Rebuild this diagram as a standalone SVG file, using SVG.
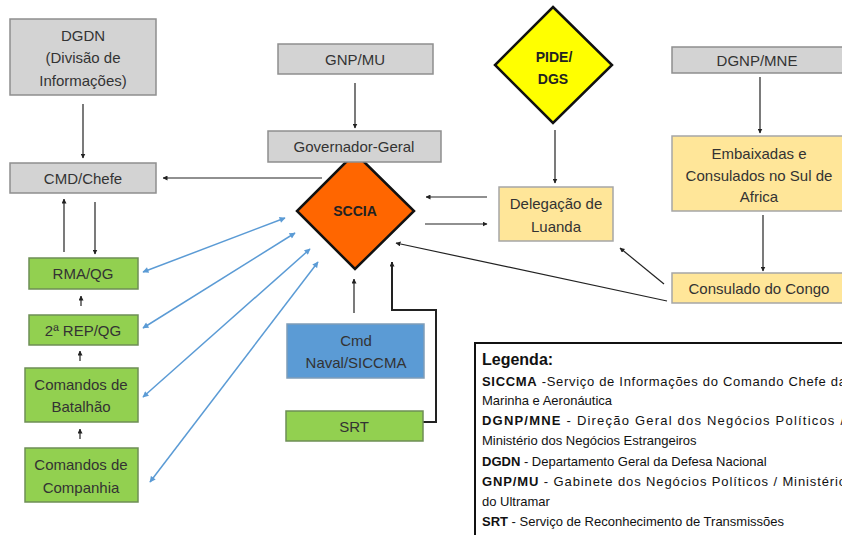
<svg xmlns="http://www.w3.org/2000/svg" width="842" height="535" viewBox="0 0 842 535">
<defs>
<marker id="ah" viewBox="0 0 10 10" refX="9" refY="5" markerWidth="5" markerHeight="5" orient="auto-start-reverse" markerUnits="userSpaceOnUse"><path d="M0,0 L10,5 L0,10 z" fill="#222"/></marker>
<marker id="ahb" viewBox="0 0 10 10" refX="9" refY="5" markerWidth="7" markerHeight="6" orient="auto-start-reverse" markerUnits="userSpaceOnUse"><path d="M0,0 L10,5 L0,10 z" fill="#5B9BD5"/></marker>
<style>
text{font-family:"Liberation Sans",Arial,sans-serif;fill:#333;font-size:15px;text-anchor:middle;dominant-baseline:central}
.gray{fill:#D3D3D3;stroke:#8E8E8E;stroke-width:1.5}
.green{fill:#92D050;stroke:#6E8E55;stroke-width:1.5}
.sand{fill:#FFE699;stroke:#A6A6A6;stroke-width:1.5}
.blue{fill:#5B9BD5;stroke:#7F9DB8;stroke-width:1.5}
.c{fill:none;stroke:#222;stroke-width:1.2;marker-end:url(#ah)}
.cb{fill:none;stroke:#5B9BD5;stroke-width:1.5;marker-start:url(#ahb);marker-end:url(#ahb)}
.b{font-weight:bold}
.d{font-size:14px;fill:#222}
.lg{text-anchor:start;dominant-baseline:auto;font-size:13px;fill:#111}
</style>
</defs>
<rect width="842" height="535" fill="#fff"/>

<g id="connectors">
<line class="c" x1="83" y1="104" x2="83" y2="158"/>
<line class="c" x1="322" y1="178" x2="163" y2="178"/>
<line class="c" x1="355" y1="83" x2="355" y2="128"/>
<line class="c" x1="487" y1="197" x2="426" y2="197"/>
<line class="c" x1="425" y1="224" x2="487" y2="224"/>
<line class="c" x1="555" y1="130" x2="555" y2="183"/>
<line class="c" x1="760" y1="77" x2="760" y2="133"/>
<line class="c" x1="763" y1="215" x2="763" y2="271"/>
<line class="c" x1="664" y1="284" x2="620" y2="248"/>
<line class="c" x1="667" y1="301" x2="396" y2="243"/>
<line class="c" x1="64" y1="252" x2="64" y2="199"/>
<line class="c" x1="95" y1="202" x2="95" y2="254"/>
<line class="c" x1="81" y1="306" x2="81" y2="296"/>
<line class="c" x1="80" y1="361" x2="80" y2="351"/>
<line class="c" x1="80" y1="439" x2="80" y2="429"/>
<line class="c" x1="354" y1="313" x2="354" y2="279"/>
<polyline class="c" style="stroke-width:2" points="423,422 436,422 436,310 392,310 392,262"/>
<line class="cb" x1="143" y1="272" x2="285" y2="218"/>
<line class="cb" x1="143" y1="328" x2="295" y2="233"/>
<line class="cb" x1="143" y1="397" x2="310" y2="249"/>
<line class="cb" x1="150" y1="482" x2="318" y2="262"/>
</g>

<g id="dgdn"><rect class="gray" x="10" y="19" width="146" height="76"/>
<text x="83" y="35">DGDN</text><text x="83" y="57">(Divisão de</text><text x="83" y="80">Informações)</text></g>
<g id="cmd-chefe"><rect class="gray" x="10" y="163" width="146" height="30"/><text x="83" y="178">CMD/Chefe</text></g>
<g id="gnp-mu"><rect class="gray" x="278" y="44" width="155" height="30"/><text x="355" y="59">GNP/MU</text></g>
<g id="sccia"><polygon points="355,153 414,211 355,269 297,211" fill="#FF6600" stroke="#111" stroke-width="2.5"/>
<text x="355" y="211" class="b d">SCCIA</text></g>
<g id="governador"><rect class="gray" x="268" y="131" width="173" height="31"/><text x="354" y="146">Governador-Geral</text></g>
<g id="pide"><polygon points="553,7 612,65 553,123 495,65" fill="#FFFF00" stroke="#111" stroke-width="2.5"/>
<text x="554" y="57" class="b d">PIDE/</text><text x="553" y="79" class="b d">DGS</text></g>
<g id="delegacao"><rect class="sand" x="499" y="187" width="114" height="54"/>
<text x="556" y="203">Delegação de</text><text x="556" y="226">Luanda</text></g>
<g id="dgnp-mne"><rect class="gray" x="672" y="47" width="175" height="26"/><text x="757" y="60">DGNP/MNE</text></g>
<g id="embaixadas"><rect class="sand" x="672" y="136" width="175" height="75"/>
<text x="759" y="153">Embaixadas e</text><text x="759" y="175">Consulados no Sul de</text><text x="759" y="196">Africa</text></g>
<g id="consulado"><rect class="sand" x="672" y="273" width="175" height="30"/><text x="759" y="288">Consulado do Congo</text></g>
<g id="rma"><rect class="green" x="29" y="258" width="109" height="31"/><text x="83" y="273">RMA/QG</text></g>
<g id="rep"><rect class="green" x="29" y="315" width="109" height="30"/><text x="83" y="330">2ª REP/QG</text></g>
<g id="batalhao"><rect class="green" x="25" y="368" width="113" height="54"/>
<text x="81" y="384">Comandos de</text><text x="81" y="406">Batalhão</text></g>
<g id="companhia"><rect class="green" x="25" y="448" width="113" height="54"/>
<text x="81" y="464">Comandos de</text><text x="81" y="487">Companhia</text></g>
<g id="cmd-naval"><rect class="blue" x="287" y="324" width="137" height="54"/>
<text x="356" y="340">Cmd</text><text x="356" y="362">Naval/SICCMA</text></g>
<g id="srt"><rect class="green" x="286" y="411" width="137" height="30"/><text x="354" y="426">SRT</text></g>

<g id="legenda">
<rect x="475" y="343" width="380" height="200" fill="#fff" stroke="#111" stroke-width="2"/>
<text class="lg b" x="482" y="365" style="font-size:16px">Legenda:</text>
<text class="lg" x="482" y="386" textLength="364" lengthAdjust="spacing"><tspan class="b">SICCMA</tspan> -Serviço de Informações do Comando Chefe da</text>
<text class="lg" x="482" y="405">Marinha e Aeronáutica</text>
<text class="lg" x="482" y="425" textLength="362" lengthAdjust="spacing"><tspan class="b">DGNP/MNE</tspan> - Direção Geral dos Negócios Políticos /</text>
<text class="lg" x="482" y="445">Ministério dos Negócios Estrangeiros</text>
<text class="lg" x="482" y="466"><tspan class="b">DGDN</tspan> - Departamento Geral da Defesa Nacional</text>
<text class="lg" x="482" y="486" textLength="364" lengthAdjust="spacing"><tspan class="b">GNP/MU</tspan> - Gabinete dos Negócios Políticos / Ministério</text>
<text class="lg" x="482" y="506">do Ultramar</text>
<text class="lg" x="482" y="526"><tspan class="b">SRT</tspan> - Serviço de Reconhecimento de Transmissões</text>
</g>
</svg>
